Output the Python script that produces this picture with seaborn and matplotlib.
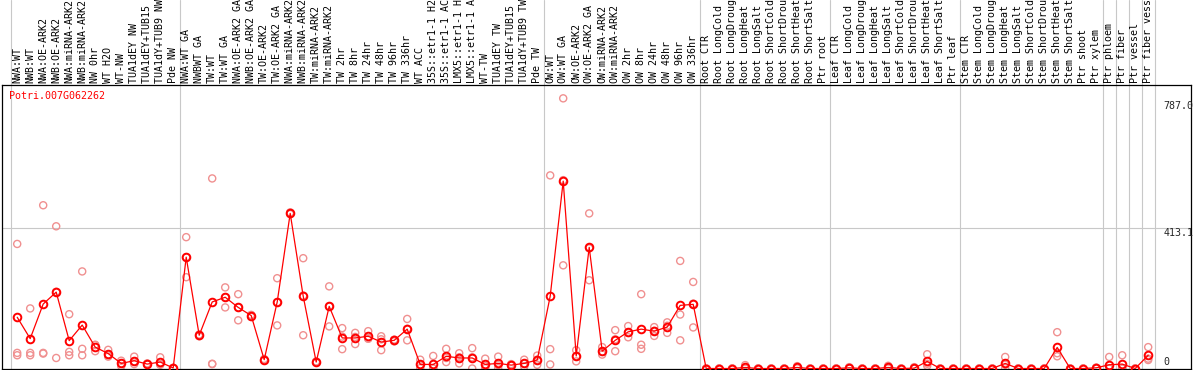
import numpy as np
import pandas as pd
import matplotlib
matplotlib.use("Agg")
import matplotlib.pyplot as plt
import matplotlib.transforms as mtransforms
import seaborn as sns

categories = [
    "NWA:WT", "NWB:WT", "NWA:OE-ARK2", "NWB:OE-ARK2", "NWA:miRNA-ARK2", "NWB:miRNA-ARK2",
    "NW 0hr", "WT H2O", "WT-NW", "TUA1dEY NW", "TUA1dEY+TUB15 NW", "TUA1dY+TUB9 NW", "Pde NW",
    "NWA:WT GA", "NWBWT GA", "TW:WT", "TW:WT GA", "NWA:OE-ARK2 GA", "NWB:OE-ARK2 GA",
    "TW:OE-ARK2", "TW:OE-ARK2 GA", "NWA:miRNA-ARK2 GA", "NWB:miRNA-ARK2 GA", "TW:miRNA-ARK2",
    "TW:miRNA-ARK2 GA", "TW 2hr", "TW 8hr", "TW 24hr", "TW 48hr", "TW 96hr", "TW 336hr",
    "WT ACC", "35S::etr1-1 H2O", "35S::etr1-1 ACC", "LMX5::etr1-1 H2O", "LMX5::etr1-1 ACC",
    "WT-TW", "TUA1dEY TW", "TUA1dEY+TUB15 TW", "TUA1dY+TUB9 TW", "Pde TW",
    "OW:WT", "OW:WT GA", "OW:OE-ARK2", "OW:OE-ARK2 GA", "OW:miRNA-ARK2", "OW:miRNA-ARK2 GA",
    "OW 2hr", "OW 8hr", "OW 24hr", "OW 48hr", "OW 96hr", "OW 336hr",
    "Root CTR", "Root LongCold", "Root LongDrought", "Root LongHeat", "Root LongSalt",
    "Root ShortCold", "Root ShortDrought", "Root ShortHeat", "Root ShortSalt", "Ptr root",
    "Leaf CTR", "Leaf LongCold", "Leaf LongDrought", "Leaf LongHeat", "Leaf LongSalt",
    "Leaf ShortCold", "Leaf ShortDrought", "Leaf ShortHeat", "Leaf ShortSalt", "Ptr leaf",
    "Stem CTR", "Stem LongCold", "Stem LongDrought", "Stem LongHeat", "Stem LongSalt",
    "Stem ShortCold", "Stem ShortDrought", "Stem ShortHeat", "Stem ShortSalt", "Ptr shoot",
    "Ptr xylem", "Ptr phloem", "Ptr fiber", "Ptr vessel", "Ptr fiber vessel",
]

means = [151, 88, 190, 225, 82, 128, 63, 44, 15, 23, 13, 19, 1.5,
         328, 98, 196, 210, 180, 156, 26, 196, 457, 213, 19, 183, 90, 90, 95, 78, 83, 116,
         12, 12, 36, 31, 31, 12, 15, 10, 15, 25,
         213, 552, 37, 357, 51, 83, 108, 116, 110, 122, 186, 189,
         0, 0, 0, 3, 0, 0, 0, 3, 0, 0,
         0, 2, 0, 0, 3, 0, 1, 21, 0, 0,
         0, 0, 0, 15, 0, 0, 0, 62, 0, 0, 2,
         11, 13, 0, 39]

rep1 = [367, 177, 481, 419, 160, 286, 70, 55, 23, 35, 15, 33, 0,
        387, 100, 560, 239, 219, 158, 26, 266, 460, 325, 19, 242, 119, 105, 110, 95, 80, 146,
        26, 37, 58, 45, 60, 29, 35, 10, 26, 38,
        569, 796, 54, 457, 63, 113, 125, 219, 122, 136, 317, 255,
        0, 0, 0, 10, 0, 0, 0, 7, 0, 0,
        0, 4, 0, 0, 8, 0, 4, 42, 0, 0,
        0, 0, 0, 34, 0, 0, 0, 107, 0, 0, 3,
        34, 39, 0, 63]

rep2 = [46, 46, 46, 31, 49, 58, 51, 41, 7, 13, 12, 11, 2,
        269, 95, 13, 180, 142, 152, 24, 127, 455, 98, 18, 124, 57, 72, 88, 54, 85, 83,
        1, 1, 19, 15, 0, 1, 1, 8, 6, 11,
        57, 304, 21, 260, 41, 51, 92, 70, 96, 105, 159, 121,
        0, 0, 0, 0, 0, 0, 0, 1, 0, 0,
        0, 1, 0, 0, 1, 0, 0, 8, 0, 0,
        0, 0, 0, 1, 0, 0, 0, 36, 0, 0, 1,
        0, 0, 0, 29]

rep3 = [39, 39, 44, 226, 39, 39, 69, 35, 15, 21, 13, 13, 2,
        328, 98, 14, 210, 180, 157, 28, 195, 457, 215, 21, 183, 94, 93, 88, 86, 84, 117,
        10, 0, 31, 33, 33, 7, 10, 13, 14, 26,
        12, 555, 36, 354, 49, 86, 105, 58, 111, 126, 83, 191,
        0, 0, 0, 0, 0, 0, 0, 1, 0, 0,
        0, 1, 0, 0, 0, 0, 0, 14, 0, 0,
        0, 0, 0, 11, 0, 0, 0, 45, 0, 0, 1,
        0, 0, 0, 25]

gene = "Potri.007G062262"
group_bounds = [0, 13, 41, 53, 63, 73, 84, 85, 86, 87, 88]
tick_values = [787.0, 413.1, 0]

sns.set_theme(style="white")
plt.rcParams["font.family"] = ["DejaVu Sans Mono", "DejaVu Sans"]

W, H = 1194, 370
fig = plt.figure(figsize=(W / 100, H / 100), dpi=100)
ax_left, ax_right, ax_top, ax_bot = 1.5, 1190.5, 85, 369
ax = fig.add_axes([ax_left / W, (H - ax_bot) / H, (ax_right - ax_left) / W, (ax_bot - ax_top) / H])

px0, pxu = 10.7, 13.0
ax.set_xlim((ax_left - px0) / pxu, (ax_right - px0) / pxu)
y0px, ypu = 368.5, 0.3394
ax.set_ylim((y0px - ax_bot) / ypu, (y0px - ax_top) / ypu)
ax.set_xticks([])
ax.set_yticks([])
for s in ax.spines.values():
    s.set_color("black")
    s.set_linewidth(0.9)

trans = mtransforms.blended_transform_factory(ax.transData, ax.transAxes)
ax_h = ax_bot - ax_top
for b in group_bounds:
    ax.plot([b, b], [0, ax_bot / ax_h], transform=trans, color="#c8c8c8", lw=0.8,
            clip_on=False, zorder=0)
ax.axhline(tick_values[1], color="#c8c8c8", lw=0.8, zorder=0)

x = np.arange(len(categories)) + 0.5
rep_df = pd.DataFrame({
    "x": np.concatenate([x, x, x]),
    "v": np.concatenate([rep1, rep2, rep3]),
})
sns.scatterplot(data=rep_df, x="x", y="v", ax=ax, marker="o", s=26,
                facecolor="none", edgecolor="#f09090", linewidth=1.0, zorder=2, legend=False)
sns.lineplot(x=x, y=means, ax=ax, color="red", lw=0.9, marker="o", ms=5.5,
             mfc="none", mec="red", mew=1.4, zorder=3)
ax.set_xlabel("")
ax.set_ylabel("")

label_y = (ax_bot - 83) / ax_h
for xi, lab in zip(x, categories):
    ax.text(xi, label_y, lab, transform=trans, rotation=90, ha="center", va="bottom",
            fontsize=7.2, color="black", clip_on=False)

ax.text((9.3 - ax_left) / (ax_right - ax_left), (ax_bot - 96) / ax_h, gene,
        transform=ax.transAxes, color="red", fontsize=7.2, ha="left", va="center")

lab_x = (1163.3 - px0) / pxu
ax.text(lab_x, tick_values[0], f"{tick_values[0]:.1f}", fontsize=7.2, ha="left", va="top")
ax.text(lab_x, tick_values[1], f"{tick_values[1]:.1f}", fontsize=7.2, ha="left", va="top")
ax.text(lab_x, 9.4, "0", fontsize=7.2, ha="left", va="baseline")

fig.savefig("out.png", dpi=100)
